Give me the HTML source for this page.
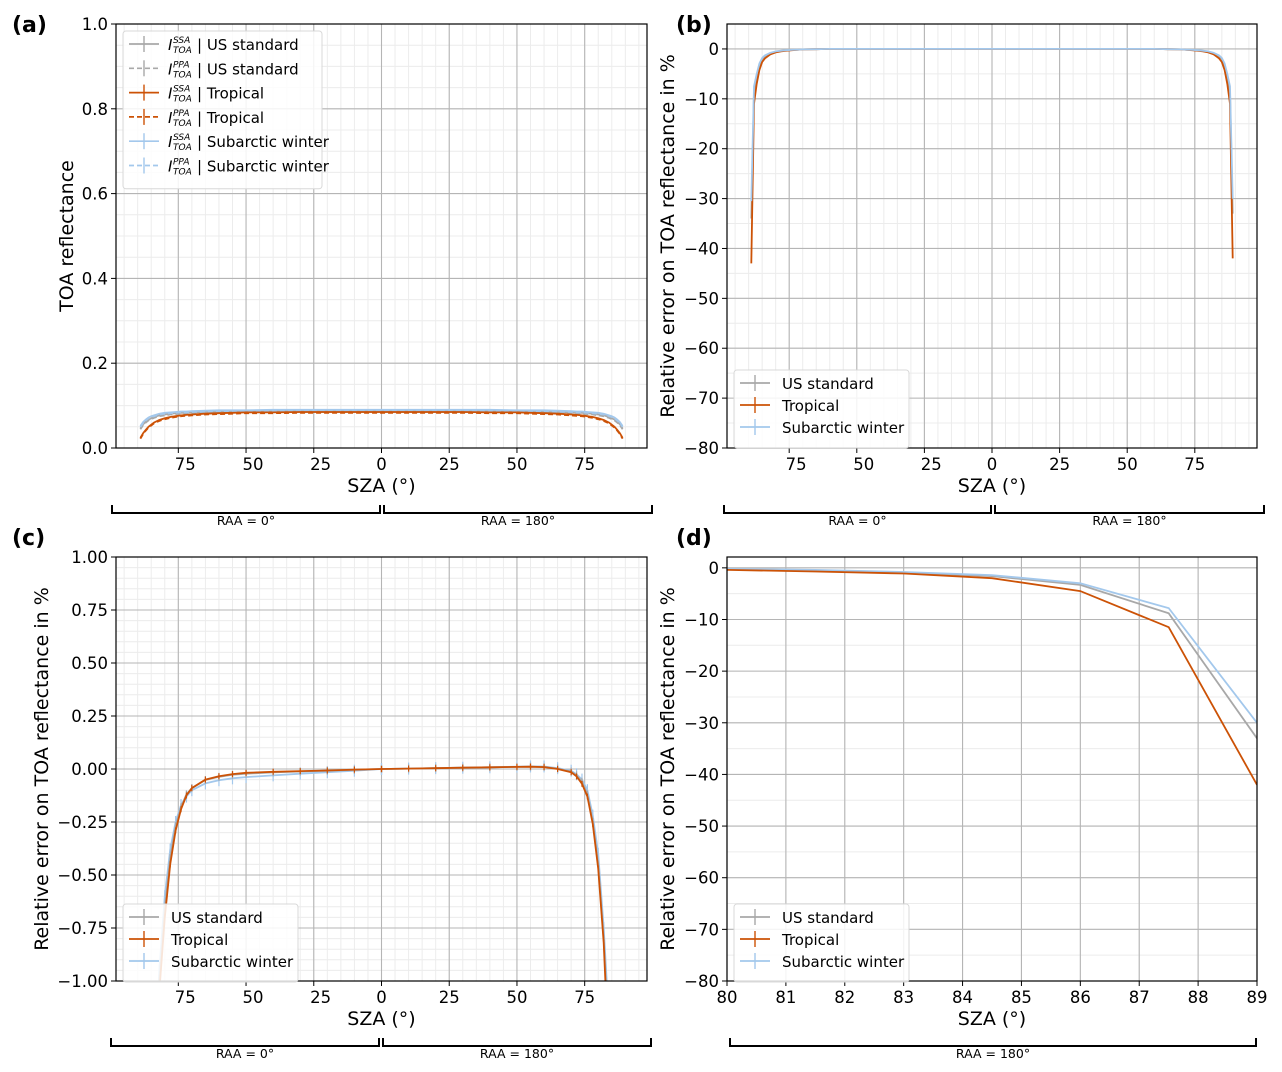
<!DOCTYPE html>
<html><head><meta charset="utf-8"><style>
html,body{margin:0;padding:0;background:#fff;overflow:hidden;width:1282px;height:1072px;}
svg{display:block;font-family:"DejaVu Sans","Liberation Sans",sans-serif;}
</style></head><body>
<svg id="fig" width="1282" height="1072" viewBox="0 0 1282 1072" xmlns="http://www.w3.org/2000/svg"></svg>
<script>
// ---- data ----
const sza = [0,10,20,30,40,50,55,60,65,70,72,74,76,78,80,82,84,85,86,87,88,89];
const reflUS = [0.087,0.087,0.087,0.087,0.087,0.087,0.086,0.086,0.085,0.084,0.083,0.083,0.082,0.081,0.079,0.077,0.073,0.070,0.067,0.062,0.056,0.046];
const reflTrop = [0.085,0.085,0.085,0.085,0.084,0.084,0.083,0.082,0.081,0.079,0.078,0.077,0.075,0.073,0.070,0.066,0.060,0.055,0.050,0.043,0.035,0.024];
const reflSub = [0.090,0.090,0.090,0.090,0.090,0.089,0.089,0.089,0.088,0.087,0.086,0.086,0.085,0.084,0.083,0.081,0.077,0.075,0.072,0.067,0.061,0.052];
const errB_US = [0,0,0,0,0,0,0,0,-0.05,-0.1,-0.15,-0.2,-0.3,-0.4,-0.6,-0.9,-1.5,-2.0,-3.2,-5.5,-8.5,-34];
const errB_Trop = [0,0,0,0,0,0,0,0,-0.05,-0.1,-0.2,-0.25,-0.35,-0.5,-0.7,-1.1,-1.9,-2.6,-4.2,-7,-11,-43];
const errB_Sub = [0,0,0,0,0,0,0,0,-0.05,-0.1,-0.15,-0.2,-0.25,-0.35,-0.5,-0.8,-1.3,-1.8,-2.9,-5,-7.5,-30.5];
const errC_US_L = [0,-0.004,-0.008,-0.012,-0.016,-0.022,-0.027,-0.037,-0.052,-0.09,-0.12,-0.18,-0.27,-0.42,-0.66,-1.0,-1.6,-2,-3,-5,-8,-34];
const errC_Trop_L = [0,-0.003,-0.007,-0.01,-0.013,-0.018,-0.024,-0.034,-0.05,-0.09,-0.125,-0.19,-0.29,-0.45,-0.7,-1.05,-1.7,-2.2,-3.5,-6,-10,-43];
const errC_Sub_L = [0,-0.008,-0.015,-0.022,-0.03,-0.038,-0.044,-0.053,-0.068,-0.1,-0.13,-0.17,-0.25,-0.38,-0.6,-0.95,-1.5,-1.9,-2.9,-5,-7.5,-30];
const errC_US_R = [0,0.002,0.004,0.006,0.008,0.01,0.011,0.01,0.002,-0.012,-0.03,-0.06,-0.12,-0.25,-0.45,-0.8,-1.3,-1.8,-3,-5,-8.5,-33];
const errC_Trop_R = [0,0.002,0.004,0.006,0.008,0.01,0.011,0.009,0.0,-0.015,-0.035,-0.07,-0.13,-0.26,-0.47,-0.82,-1.4,-2,-4.2,-7,-11,-42];
const errC_Sub_R = [0,0.002,0.004,0.006,0.008,0.011,0.012,0.012,0.004,-0.008,-0.025,-0.05,-0.1,-0.22,-0.4,-0.75,-1.2,-1.7,-2.8,-4.8,-7.5,-30];
const szaD = [80,81.5,83,84.5,86,87.5,89];
const errD_US = [-0.3,-0.5,-0.9,-1.6,-3.3,-8.8,-33];
const errD_Trop = [-0.4,-0.7,-1.1,-2.0,-4.5,-11.5,-42];
const errD_Sub = [-0.2,-0.4,-0.8,-1.4,-3.0,-7.8,-30];
const xTicksSZA = [-75,-50,-25,0,25,50,75];
const xTickLabelsSZA = ['75','50','25','0','25','50','75'];
const yTicksA = [0,0.2,0.4,0.6,0.8,1.0];
const yTicksB = [0,-10,-20,-30,-40,-50,-60,-70,-80];
const yTicksC = [1,0.75,0.5,0.25,0,-0.25,-0.5,-0.75,-1];
const xTicksD = [80,81,82,83,84,85,86,87,88,89];

const C = {us:'#a8a8a8', tr:'#cc5206', sub:'#a3c8ec'};
const NS='http://www.w3.org/2000/svg';
const fig=document.getElementById('fig');
function el(tag,attrs,parent){const e=document.createElementNS(NS,tag);for(const k in attrs)e.setAttribute(k,attrs[k]);(parent||fig).appendChild(e);return e;}
function txt(s,attrs,parent){const e=el('text',attrs,parent);e.textContent=s;return e;}

function panel(p){
  const g=el('g',{});
  
  
  const sx=v=>p.x0+(v-p.xmin)/(p.xmax-p.xmin)*(p.x1-p.x0);
  const sy=v=>p.y1-(v-p.ymin)/(p.ymax-p.ymin)*(p.y1-p.y0);
  for(let v=Math.ceil(p.xmin/p.xminor)*p.xminor;v<=p.xmax;v+=p.xminor){el('line',{x1:sx(v),x2:sx(v),y1:p.y0,y2:p.y1,stroke:'#ececec','stroke-width':1},g);}
  for(let v=Math.ceil(p.ymin/p.yminor)*p.yminor;v<=p.ymax+1e-9;v+=p.yminor){el('line',{x1:p.x0,x2:p.x1,y1:sy(v),y2:sy(v),stroke:'#ececec','stroke-width':1},g);}
  p.xt.forEach((v,i)=>{const x=sx(v);el('line',{x1:x,x2:x,y1:p.y0,y2:p.y1,stroke:'#b5b5b5','stroke-width':1.1},g);el('line',{x1:x,x2:x,y1:p.y1,y2:p.y1+5,stroke:'#000'},g);
    const t=el('text',{x:x,y:p.y1+22,'text-anchor':'middle','font-size':16.5,fill:'#000'},g);
    if(p.hiddenMinus && v<0){const m=el('tspan',{fill:'#ffffff'},t);m.textContent='−';}
    const n=el('tspan',{},t);n.textContent=p.xl[i];
    });
  p.yt.forEach(v=>{const y=sy(v);el('line',{x1:p.x0,x2:p.x1,y1:y,y2:y,stroke:'#b5b5b5','stroke-width':1.1},g);el('line',{x1:p.x0-5,x2:p.x0,y1:y,y2:y,stroke:'#000'},g);
    const t=txt(p.yfmt(v),{x:p.x0-8,y:y+6,'text-anchor':'end','font-size':16.5,fill:'#000'},g);});
  const cp='cp'+p.name;const cl=el('clipPath',{id:cp},g);el('rect',{x:p.x0,y:p.y0,width:p.x1-p.x0,height:p.y1-p.y0},cl);
  const sg=el('g',{'clip-path':'url(#'+cp+')'},g);
  p.series.forEach(s=>{
    let d='';s.xs.forEach((xv,i)=>{d+=(i?'L':'M')+sx(xv).toFixed(1)+','+sy(s.ys[i]).toFixed(1);});
    const pth=el('path',{d:d,fill:'none',stroke:s.c,'stroke-width':1.8,'stroke-dasharray':s.dash||'none'},sg);
    
    
    if(s.err){s.xs.forEach((xv,i)=>{const y=sy(s.ys[i]);el('line',{x1:sx(xv),x2:sx(xv),y1:y-s.err,y2:y+s.err,stroke:s.c,'stroke-width':1.2},sg);});}
  });
  el('rect',{x:p.x0,y:p.y0,width:p.x1-p.x0,height:p.y1-p.y0,fill:'none',stroke:'#000','stroke-width':1.2},g);
  const xl=txt('SZA (°)',{x:(p.x0+p.x1)/2,y:p.y1+44,'text-anchor':'middle','font-size':19},g);
  
  const yl=txt(p.ylabel,{x:0,y:0,'text-anchor':'middle','font-size':19,transform:'translate('+p.ylx+','+((p.y0+p.y1)/2)+') rotate(-90)'},g);
  
  const pl=txt(p.label,{x:p.lx,y:p.ly,'font-size':22,'font-weight':'bold'},g);
  
  const L=p.legend;const lg=el('g',{},g);
  
  el('rect',{x:L.x,y:L.y,width:L.w,height:L.entries.length*L.dy+12,rx:3,fill:'#fff','fill-opacity':0.85,stroke:'#d8d8d8'},lg);
  L.entries.forEach((e,i)=>{const y=L.y+13+i*L.dy;const eg=el('g',{},lg);
    
    el('line',{x1:L.x+6,x2:L.x+36,y1:y,y2:y,stroke:e.c,'stroke-width':1.7,'stroke-dasharray':e.dash||'none'},eg);
    el('line',{x1:L.x+21,x2:L.x+21,y1:y-8,y2:y+8,stroke:e.c,'stroke-width':1.4},eg);
    if(e.sup){const bx=L.x+45;
      txt('I',{x:bx,y:y+6,'font-size':15,'font-style':'italic'},eg);
      txt(e.sup,{x:bx+5,y:y-1,'font-size':9,'font-style':'italic'},eg);
      txt('TOA',{x:bx+5,y:y+9,'font-size':9,'font-style':'italic'},eg);
      txt('| '+e.t,{x:bx+29,y:y+6,'font-size':15},eg);
    } else txt(e.t,{x:L.x+48,y:y+6,'font-size':15},eg);
  });
  return {sx,sy};
}
function bracket(x0,x1,y,label,name){
  const g=el('g',{});
  el('path',{d:`M${x0},${y-8}L${x0},${y}L${x1},${y}L${x1},${y-8}`,fill:'none',stroke:'#000','stroke-width':2},g);
  txt(label,{x:(x0+x1)/2,y:y+12,'text-anchor':'middle','font-size':12.5},g);
}
const rev=a=>a.slice().reverse();
function both(l,r){return {xs:sza.map(v=>-v).reverse().concat(sza), ys:rev(l).concat(r)};}
const fmtA=v=>v.toFixed(1), fmtB=v=>(v<0?'−'+(-v):''+v), fmtC=v=>(v<0?'−'+(-v).toFixed(2):v.toFixed(2));
const leg3=[{t:'US standard',c:C.us},{t:'Tropical',c:C.tr},{t:'Subarctic winter',c:C.sub}];

const pa={name:'panel-a',hiddenMinus:true,x0:116,x1:647,y0:24,y1:448,xmin:-98,xmax:98,ymin:0,ymax:1,xminor:5,yminor:0.05,xt:xTicksSZA,xl:xTickLabelsSZA,yt:yTicksA,yfmt:fmtA,ylabel:'TOA reflectance',ylx:73,label:'(a)',lx:12,ly:32,
 series:[],legend:{x:123,y:31,w:199,dy:24.3,entries:[
  {t:'US standard',c:C.us,sup:'SSA'},{t:'US standard',c:C.us,sup:'PPA',dash:'5,3'},
  {t:'Tropical',c:C.tr,sup:'SSA'},{t:'Tropical',c:C.tr,sup:'PPA',dash:'5,3'},
  {t:'Subarctic winter',c:C.sub,sup:'SSA'},{t:'Subarctic winter',c:C.sub,sup:'PPA',dash:'5,3'}]}};
[['us',reflUS],['sub',reflSub],['tr',reflTrop]].forEach(([k,a])=>{const s=both(a,a);
  pa.series.push({name:'series-'+k+'-ssa',c:C[k],xs:s.xs,ys:s.ys});
  pa.series.push({name:'series-'+k+'-ppa',c:C[k],xs:s.xs,ys:s.ys.map(v=>v-0.002),dash:'5,3'});});
panel(pa);
const pb={name:'panel-b',hiddenMinus:true,x0:727,x1:1257,y0:24,y1:448,xmin:-98,xmax:98,ymin:-80,ymax:5,xminor:5,yminor:5,xt:xTicksSZA,xl:xTickLabelsSZA,yt:yTicksB,yfmt:fmtB,ylabel:'Relative error on TOA reflectance in %',ylx:674,label:'(b)',lx:676,ly:32,
 series:[{name:'series-us',c:C.us,...both(errB_US,errB_US.map((v,i)=>i==21?-33:v))},{name:'series-tropical',c:C.tr,...both(errB_Trop,errB_Trop.map((v,i)=>i==21?-42:v))},{name:'series-subarctic',c:C.sub,...both(errB_Sub,errB_Sub.map((v,i)=>i==21?-30:v))}],
 legend:{x:734,y:370,w:175,dy:22,entries:leg3}};
panel(pb);
const pc={name:'panel-c',hiddenMinus:true,x0:116,x1:647,y0:557,y1:981,xmin:-98,xmax:98,ymin:-1,ymax:1,xminor:5,yminor:0.05,xt:xTicksSZA,xl:xTickLabelsSZA,yt:yTicksC,yfmt:fmtC,ylabel:'Relative error on TOA reflectance in %',ylx:48,label:'(c)',lx:12,ly:545,
 series:[{name:'series-subarctic',c:C.sub,err:6,...both(errC_Sub_L,errC_Sub_R)},{name:'series-us',c:C.us,err:4,...both(errC_US_L,errC_US_R)},{name:'series-tropical',c:C.tr,err:3,...both(errC_Trop_L,errC_Trop_R)}],
 legend:{x:123,y:904,w:175,dy:22,entries:leg3}};
panel(pc);
const pd={name:'panel-d',x0:727,x1:1257,y0:557,y1:981,xmin:80,xmax:89,ymin:-80,ymax:2.1,xminor:1,yminor:5,xt:xTicksD,xl:xTicksD.map(String),yt:yTicksB,yfmt:fmtB,ylabel:'Relative error on TOA reflectance in %',ylx:674,label:'(d)',lx:676,ly:545,
 series:[{name:'series-us',c:C.us,xs:szaD,ys:errD_US},{name:'series-subarctic',c:C.sub,xs:szaD,ys:errD_Sub},{name:'series-tropical',c:C.tr,xs:szaD,ys:errD_Trop}],
 legend:{x:734,y:904,w:175,dy:22,entries:leg3}};
panel(pd);
bracket(112,380,513,'RAA = 0°','bracket-raa-0-a');bracket(384,652,513,'RAA = 180°','bracket-raa-180-a');
bracket(724,991,513,'RAA = 0°','bracket-raa-0-b');bracket(995,1264,513,'RAA = 180°','bracket-raa-180-b');
bracket(111,379,1046,'RAA = 0°','bracket-raa-0-c');bracket(383,651,1046,'RAA = 180°','bracket-raa-180-c');
bracket(730,1256,1046,'RAA = 180°','bracket-raa-180-d');
</script>
</body></html>
